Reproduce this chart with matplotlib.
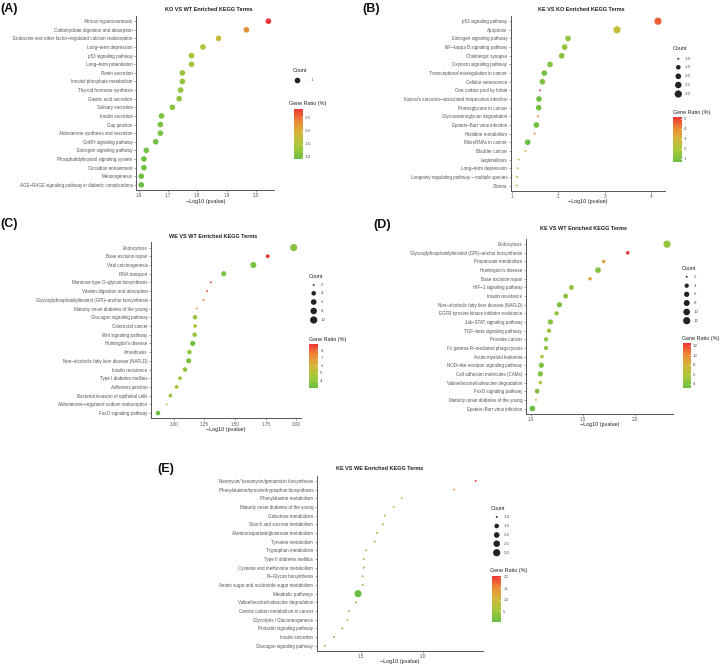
import numpy as np
import matplotlib
matplotlib.use('Agg')
import matplotlib.pyplot as plt
from matplotlib.colors import LinearSegmentedColormap, Normalize
from matplotlib.cm import ScalarMappable

plt.rcParams['font.family'] = ['Liberation Sans', 'DejaVu Sans']

# ---------------- data ----------------
# (A) KO vs WT
terms_a = ["African trypanosomiasis", "Carbohydrate digestion and absorption",
           "Endocrine and other factor−regulated calcium reabsorption", "Long−term depression",
           "p53 signaling pathway", "Long−term potentiation", "Renin secretion",
           "Inositol phosphate metabolism", "Thyroid hormone synthesis", "Gastric acid secretion",
           "Salivary secretion", "Insulin secretion", "Gap junction",
           "Aldosterone synthesis and secretion", "GnRH signaling pathway",
           "Estrogen signaling pathway", "Phosphatidylinositol signaling system",
           "Circadian entrainment", "Melanogenesis",
           "AGE−RAGE signaling pathway in diabetic complications"]
logp_a = [2.042, 1.967, 1.872, 1.819, 1.780, 1.780, 1.749, 1.749, 1.743, 1.738,
          1.715, 1.678, 1.674, 1.674, 1.658, 1.626, 1.618, 1.618, 1.609, 1.609]
count_a = [1] * 20
ratio_a = [2.82, 2.30, 1.75, 1.45, 1.35, 1.35, 1.25, 1.25, 1.25, 1.22,
           1.15, 1.05, 1.05, 1.05, 1.00, 0.98, 0.95, 0.95, 0.93, 0.92]

# (B) KE vs KO
terms_b = ["p53 signaling pathway", "Apoptosis", "Estrogen signaling pathway",
           "NF−kappa B signaling pathway", "Cholinergic synapse", "Oxytocin signaling pathway",
           "Transcriptional misregulation in cancer", "Cellular senescence",
           "One carbon pool by folate", "Kaposi's sarcoma−associated herpesvirus infection",
           "Proteoglycans in cancer", "Glycosaminoglycan degradation",
           "Epstein−Barr virus infection", "Histidine metabolism", "MicroRNAs in cancer",
           "Bladder cancer", "Legionellosis", "Long−term depression",
           "Longevity regulating pathway − multiple species", "Glioma"]
logp_b = [4.143, 3.262, 2.210, 2.138, 2.074, 1.823, 1.702, 1.659, 1.609, 1.587,
          1.580, 1.566, 1.530, 1.494, 1.344, 1.294, 1.150, 1.129, 1.115, 1.107]
count_b = [3, 3, 2, 2, 2, 2, 2, 2, 1, 2, 2, 1, 2, 1, 2, 1, 1, 1, 1, 1]
ratio_b = [4.6, 2.5, 1.4, 1.5, 1.3, 1.1, 0.9, 1.1, 5.17, 0.8,
           0.85, 4.2, 0.85, 4.3, 0.67, 2.4, 1.8, 1.7, 1.6, 1.5]

# (C) WE vs WT
terms_c = ["Endocytosis", "Base excision repair", "Viral carcinogenesis", "RNA transport",
           "Mannose type O−glycan biosynthesis", "Vitamin digestion and absorption",
           "Glycosylphosphatidylinositol (GPI)−anchor biosynthesis",
           "Maturity onset diabetes of the young", "Glucagon signaling pathway",
           "Colorectal cancer", "Wnt signaling pathway", "Huntington's disease", "Amoebiasis",
           "Non−alcoholic fatty liver disease (NAFLD)", "Insulin resistance",
           "Type I diabetes mellitus", "Adherens junction",
           "Bacterial invasion of epithelial cells",
           "Aldosterone−regulated sodium reabsorption", "FoxO signaling pathway"]
logp_c = [1.978, 1.766, 1.649, 1.408, 1.302, 1.272, 1.242, 1.188, 1.174, 1.174,
          1.171, 1.155, 1.128, 1.122, 1.092, 1.052, 1.024, 0.973, 0.943, 0.872]
count_c = [10, 3, 7, 5, 2, 2, 2, 2, 4, 3, 4, 5, 4, 5, 4, 3, 3, 3, 2, 4]
ratio_c = [3.6, 8.86, 3.3, 3.3, 8.6, 8.3, 7.6, 6.8, 4.0, 4.6,
           4.0, 3.1, 3.9, 3.3, 3.8, 4.2, 4.2, 4.0, 5.8, 2.9]

# (D) KE vs WT
terms_d = ["Endocytosis", "Glycosylphosphatidylinositol (GPI)−anchor biosynthesis",
           "Propanoate metabolism", "Huntington's disease", "Base excision repair",
           "HIF−1 signaling pathway", "Insulin resistance",
           "Non−alcoholic fatty liver disease (NAFLD)",
           "EGFR tyrosine kinase inhibitor resistance", "Jak−STAT signaling pathway",
           "TGF−beta signaling pathway", "Prostate cancer",
           "Fc gamma R−mediated phagocytosis", "Acute myeloid leukemia",
           "NOD−like receptor signaling pathway", "Cell adhesion molecules (CAMs)",
           "Valine/leucine/isoleucine degradation", "FoxO signaling pathway",
           "Maturity onset diabetes of the young", "Epstein−Barr virus infection"]
logp_d = [2.303, 1.927, 1.697, 1.643, 1.567, 1.389, 1.334, 1.274, 1.248, 1.188,
          1.175, 1.146, 1.146, 1.108, 1.102, 1.092, 1.092, 1.061, 1.051, 1.016]
count_d = [12, 3, 3, 7, 3, 5, 5, 6, 4, 6, 4, 4, 4, 3, 6, 6, 3, 5, 2, 7]
ratio_d = [4.8, 12.5, 8.8, 4.0, 8.5, 4.6, 4.5, 3.8, 4.6, 4.2,
           5.0, 4.5, 4.4, 5.2, 3.8, 3.8, 5.6, 3.9, 7.2, 3.1]

# (E) KE vs WE
terms_e = ["Neomycin/ kanamycin/gentamicin biosynthesis",
           "Phenylalanine/tyrosine/tryptophan biosynthesis", "Phenylalanine metabolism",
           "Maturity onset diabetes of the young", "Galactose metabolism",
           "Starch and sucrose metabolism", "Alanine/aspartate/glutamate metabolism",
           "Tyrosine metabolism", "Tryptophan metabolism", "Type II diabetes mellitus",
           "Cysteine and methionine metabolism", "N−Glycan biosynthesis",
           "Amino sugar and nucleotide sugar metabolism", "Metabolic pathways",
           "Valine/leucine/isoleucine degradation", "Central carbon metabolism in cancer",
           "Glycolysis / Gluconeogenesis", "Prolactin signaling pathway",
           "Insulin secretion", "Glucagon signaling pathway"]
logp_e = [2.418, 2.245, 1.827, 1.763, 1.694, 1.678, 1.630, 1.612, 1.543, 1.524,
          1.524, 1.516, 1.516, 1.479, 1.463, 1.407, 1.394, 1.354, 1.287, 1.213]
count_e = [1] * 13 + [3] + [1] * 6
ratio_e = [20.4, 14.0, 6.5, 5.5, 3.5, 3.0, 3.2, 3.0, 2.6, 2.2,
           2.0, 2.2, 2.0, 0.3, 2.1, 2.8, 1.6, 1.5, 1.3, 1.1]

# ---------------- style ----------------
W, H = 720, 666
cmap = LinearSegmentedColormap.from_list(
    'gr', ['#6BBE45', '#A6C83A', '#D2B83A', '#EC8A36', '#EE3535'])
GREY = '#555555'
DMIN, DMAX = 1.9, 7.2  # marker diameters in px


def dot_size(c, cmin, cmax):
    c = np.asarray(c, dtype=float)
    if cmax == cmin:
        frac = np.full_like(c, 0.5)
    else:
        frac = (c - cmin) / (cmax - cmin)
    d = DMIN + (DMAX - DMIN) * np.sqrt(np.clip(frac, 0, None))
    return (d * 72 / 100) ** 2


fig = plt.figure(figsize=(W / 100, H / 100), dpi=100)
over = fig.add_axes([0, 0, 1, 1], zorder=5)
over.set_xlim(0, W)
over.set_ylim(H, 0)
over.axis('off')


def panel(letter, letter_xy, title, terms, logp, count, ratio, box, xlim, xticks, xfmt,
          title_xy, xlabel_xy, cnt_title_xy, cnt_keys, cnt_ys, cnt_dx, cnt_lx, kfmt,
          rat_title_xy, cbar_box, rat_ticks, rfmt):
    l, t, r, b = box
    ax = fig.add_axes([l / W, 1 - b / H, (r - l) / W, (b - t) / H])
    n = len(terms)
    ypos = np.arange(n)[::-1]
    cmin, cmax = min(count), max(count)
    norm = Normalize(min(ratio), max(ratio))
    ax.scatter(logp, ypos, s=dot_size(count, cmin, cmax), c=ratio, cmap=cmap,
               norm=norm, linewidths=0, zorder=3)
    ax.set_xlim(*xlim)
    ax.set_ylim(-0.6, n - 0.4)
    ax.set_yticks(ypos)
    ax.set_yticklabels(terms, fontsize=3.25, color=GREY)
    ax.set_xticks(xticks)
    ax.set_xticklabels([xfmt % v for v in xticks], fontsize=3.3, color=GREY)
    ax.tick_params(length=1.5, width=0.4, color='#555555', pad=1)
    for s in ['top', 'right']:
        ax.spines[s].set_visible(False)
    for s in ['left', 'bottom']:
        ax.spines[s].set_color('#555555')
        ax.spines[s].set_linewidth(0.7)

    over.text(*title_xy, title, fontsize=4.0, fontweight='bold', ha='center',
              va='center', color='#222222')
    over.text(*xlabel_xy, '−Log10 (pvalue)', fontsize=3.9, ha='center', va='center',
              color='#222222')
    over.text(*letter_xy, letter, fontsize=9, fontweight='bold', ha='left',
              va='center', color='#111111')

    # size legend
    over.text(*cnt_title_xy, 'Count', fontsize=3.9, ha='left', va='center', color='#222222')
    over.scatter([cnt_dx] * len(cnt_keys), cnt_ys, s=dot_size(cnt_keys, cmin, cmax),
                 color='#222222', linewidths=0)
    for k, yy in zip(cnt_keys, cnt_ys):
        over.text(cnt_lx, yy, kfmt % k, fontsize=3.2, ha='left', va='center', color=GREY)

    # colour legend
    over.text(*rat_title_xy, 'Gene Ratio (%)', fontsize=3.9, ha='left', va='center',
              color='#222222')
    cl, ct, cr, cb = cbar_box
    cax = fig.add_axes([cl / W, 1 - cb / H, (cr - cl) / W, (cb - ct) / H])
    cbar = fig.colorbar(ScalarMappable(norm=norm, cmap=cmap), cax=cax)
    cbar.outline.set_visible(False)
    cbar.set_ticks(rat_ticks)
    cbar.set_ticklabels([rfmt % v for v in rat_ticks])
    cax.tick_params(labelsize=3.2, labelcolor=GREY, length=1.2, width=0.4,
                    color='white', direction='in', pad=1.5)


panel('(A)', (0, 9), 'KO VS WT Enriched KEGG Terms', terms_a, logp_a, count_a, ratio_a,
      (136, 16, 274, 190), (1.591, 2.061), [1.6, 1.7, 1.8, 1.9, 2.0], '%.1f',
      (209, 9.3), (206, 201), (292.7, 70), [1], [80], 297, 311, '%d',
      (288.7, 103), (294, 109, 303, 159), [1.0, 1.5, 2.0, 2.5], '%.1f')

panel('(B)', (362, 9), 'KE VS KO Enriched KEGG Terms', terms_b, logp_b, count_b, ratio_b,
      (510.7, 16, 665.3, 190.7), (0.979, 4.30), [1, 2, 3, 4], '%d',
      (581, 9.7), (587.7, 202), (672.7, 49), [1.0, 1.5, 2.0, 2.5, 3.0],
      [58.7, 67.3, 76.3, 85, 94], 678.3, 685, '%.1f',
      (673.3, 112.7), (673, 117, 681.7, 162), [1, 2, 3, 4, 5], '%d')

panel('(C)', (0, 224), 'WE VS WT Enriched KEGG Terms', terms_c, logp_c, count_c, ratio_c,
      (151, 242.3, 300.7, 418.3), (0.815, 2.035), [1.0, 1.25, 1.5, 1.75, 2.0], '%.2f',
      (212.7, 236), (226, 429), (308.7, 276.7), [2, 4, 6, 8, 10],
      [285, 293.3, 302, 311, 320], 313.7, 320.7, '%d',
      (308.7, 339), (309.3, 344, 318.3, 388.3), [4, 5, 6, 7, 8], '%d')

panel('(D)', (373, 225), 'KE VS WT Enriched KEGG Terms', terms_d, logp_d, count_d, ratio_d,
      (525.7, 239, 673.3, 413.7), (0.952, 2.363), [1.0, 1.5, 2.0], '%.1f',
      (584, 229), (600, 424.3), (682, 268.7), [2, 4, 6, 8, 10, 12],
      [276.7, 285.7, 294.3, 303, 312, 320.7], 686.7, 694, '%d',
      (682, 338.7), (682.7, 343.3, 691, 388.3), [4, 6, 8, 10, 12], '%d')

panel('(E)', (157, 469), 'KE VS WE Enriched KEGG Terms', terms_e, logp_e, count_e, ratio_e,
      (316.7, 475.7, 483.3, 651), (1.149, 2.479), [1.5, 2.0], '%.1f',
      (379.3, 468.3), (399.3, 661.7), (490.7, 508.3), [1.0, 1.5, 2.0, 2.5, 3.0],
      [517, 526, 535, 543.7, 552.7], 496.7, 504, '%.1f',
      (490, 570.3), (492, 576, 501.3, 621.7), [5, 10, 15, 20], '%d')

fig.savefig('out.png', dpi=100)
